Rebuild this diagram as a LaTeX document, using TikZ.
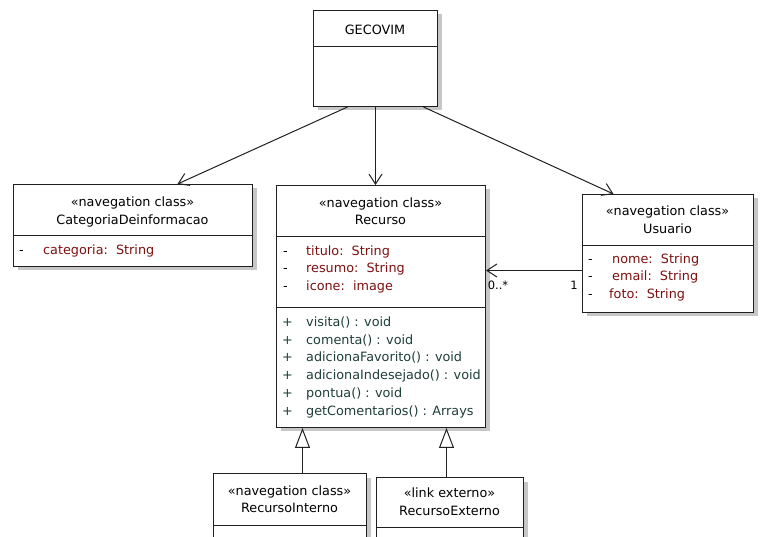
\documentclass[tikz,border=0pt]{standalone}
\usepackage{fontspec}
\setmainfont{DejaVu Sans}
\usetikzlibrary{arrows.meta,shadows}
\definecolor{attrred}{HTML}{7F1010}
\definecolor{opgreen}{HTML}{1E3E3A}
\definecolor{edge}{HTML}{202020}
\begin{document}
\begin{tikzpicture}[x=1pt,y=-1pt,
  umlbox/.style={draw=edge, line width=1pt, fill=white, anchor=north west, inner sep=0pt,
    drop shadow={shadow xshift=4pt, shadow yshift=-4pt, fill=black!22, opacity=1}},
  txt/.style={inner sep=0pt, text height=9.5pt, text depth=2.5pt, font=\fontsize{12.8}{15}\selectfont},
  attr/.style={txt, anchor=west, text=attrred},
  oper/.style={txt, anchor=west, text=opgreen},
  vis/.style={txt, anchor=west, text=black},
  divider/.style={draw=edge, line width=1pt},
  nav/.style={draw=edge, line width=1pt, -{Straight Barb[length=10pt,width=13pt,line width=1pt]}},
  gen/.style={draw=edge, line width=1pt, -{Triangle[open,length=20pt,width=15pt,line width=1pt,fill=white]}},
  mult/.style={txt, font=\fontsize{11.5}{14}\selectfont}
]
\useasboundingbox (0,0) rectangle (761,537);
\clip (0,0) rectangle (761,537);

% class boxes
\node[umlbox, minimum width=124pt, minimum height=96pt] (gec) at (313,10) {};
\node[umlbox, minimum width=239pt, minimum height=82pt] (cat) at (13,184) {};
\node[umlbox, minimum width=209pt, minimum height=242pt] (rec) at (276,185) {};
\node[umlbox, minimum width=171pt, minimum height=118pt] (usu) at (582,194) {};
\node[umlbox, minimum width=153pt, minimum height=80pt] (ri) at (213,473) {};
\node[umlbox, minimum width=147pt, minimum height=80pt] (re) at (376,477) {};

% compartment separators
\path[divider] (gec.west |- 0,47) -- (gec.east |- 0,47);
\path[divider] (cat.west |- 0,236) -- (cat.east |- 0,236);
\path[divider] (rec.west |- 0,237) -- (rec.east |- 0,237);
\path[divider] (rec.west |- 0,308) -- (rec.east |- 0,308);
\path[divider] (usu.west |- 0,246) -- (usu.east |- 0,246);
\path[divider] (ri.west |- 0,525) -- (ri.east |- 0,525);
\path[divider] (re.west |- 0,527) -- (re.east |- 0,527);

% GECOVIM
\node[txt] (gecname) at (375,31) {GECOVIM};

% CategoriaDeinformacao
\node[txt] (catst) at (132.5,203) {«navegation class»};
\node[txt] (catname) at (132.5,221) {CategoriaDeinformacao};
\node[vis] (catv1) at (19,251) {-};
\node[attr] (cata1) at (43,251) {categoria:\ \ String};

% Recurso
\node[txt] (recst) at (380.5,204) {«navegation class»};
\node[txt] (recname) at (380.5,221) {Recurso};
\node[vis] at (283,252) {-};
\node[attr] at (306,252) {titulo:\ \ String};
\node[vis] at (283,269.5) {-};
\node[attr] at (306,269.5) {resumo:\ \ String};
\node[vis] at (283,287) {-};
\node[attr] at (306,287) {icone:\ \ image};
\node[oper] at (282,323) {+};
\node[oper] at (306,323) {visita() : void};
\node[oper] at (282,341) {+};
\node[oper] at (306,341) {comenta() : void};
\node[oper] at (282,358.5) {+};
\node[oper] at (306,358.5) {adicionaFavorito() : void};
\node[oper] at (282,376.5) {+};
\node[oper] at (306,376.5) {adicionaIndesejado() : void};
\node[oper] at (282,394) {+};
\node[oper] at (306,394) {pontua() : void};
\node[oper] at (282,412) {+};
\node[oper] at (306,412) {getComentarios() : Arrays};

% Usuario
\node[txt] (usust) at (667.5,212) {«navegation class»};
\node[txt] (usuname) at (667.5,230) {Usuario};
\node[vis] at (588,260) {-};
\node[attr] at (612,260) {nome:\ \ String};
\node[vis] at (588,277.5) {-};
\node[attr] at (612,277.5) {email:\ \ String};
\node[vis] at (588,295) {-};
\node[attr] at (609,295) {foto:\ \ String};

% RecursoInterno
\node[txt] (rist) at (289.5,492) {«navegation class»};
\node[txt] (riname) at (289.5,509) {RecursoInterno};

% RecursoExterno
\node[txt] (rest) at (449.5,494) {«link externo»};
\node[txt] (rename) at (449.5,512) {RecursoExterno};

% navigable associations from GECOVIM
\draw[nav] ([xshift=-28pt]gec.south) -- ([xshift=44.5pt]cat.north);
\draw[nav] (gec.south) -- (gec.south |- rec.north);
\draw[nav] ([xshift=48pt]gec.south) -- ([xshift=-54.5pt]usu.north);

% Usuario -> Recurso association
\draw[nav] ([yshift=-17pt]usu.west) -- ([yshift=-17pt]usu.west -| rec.east);
\node[mult] (m0) at (498,286) {0..*};
\node[mult] (m1) at (574,286) {1};

% generalizations
\draw[gen] ([xshift=12.5pt]ri.north) -- ([xshift=12.5pt]ri.north |- rec.south);
\draw[gen] ([xshift=-3.5pt]re.north) -- ([xshift=-3.5pt]re.north |- rec.south);
\end{tikzpicture}
\end{document}
